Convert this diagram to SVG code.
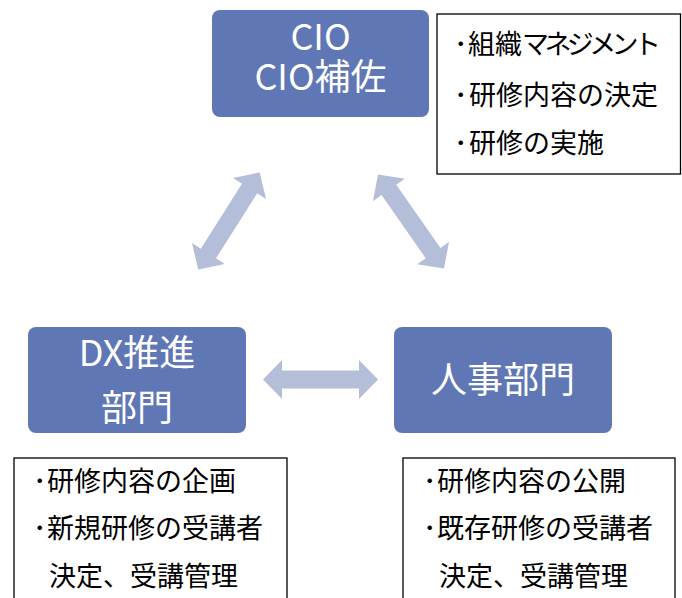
<svg xmlns="http://www.w3.org/2000/svg" xmlns:xlink="http://www.w3.org/1999/xlink" width="682" height="598" viewBox="0 0 682 598">
<style>
.node{fill:#6077b5;}
.nt{fill:#ffffff;font-family:"Noto Sans CJK JP","Noto Sans",sans-serif;font-size:36px;text-anchor:middle;}
.memo{fill:#ffffff;stroke:#000000;stroke-width:1.3;}
.mt{fill:#000000;font-family:"Noto Sans CJK JP","Noto Sans",sans-serif;font-size:27px;}
.arrow{fill:#b4bed9;}
</style>
<defs>
<path id="dblarrow" d="M-57.5,0 L-38.5,-19.5 L-38.5,-9 L38.5,-9 L38.5,-19.5 L57.5,0 L38.5,19.5 L38.5,9 L-38.5,9 L-38.5,19.5 Z"/>
</defs>
<rect width="682" height="598" fill="#ffffff"/>
<g id="connectors">
<use xlink:href="#dblarrow" class="arrow" transform="translate(229,221) rotate(122.3)"/>
<use xlink:href="#dblarrow" class="arrow" transform="translate(411,221.5) rotate(55)"/>
<use xlink:href="#dblarrow" class="arrow" transform="translate(320.5,379.5)"/>
</g>
<g id="cio">
<rect class="node" x="212" y="10" width="217" height="107" rx="8"/>
<text class="nt"><tspan x="320.5" y="50">CIO</tspan><tspan x="320.5" y="90">CIO補佐</tspan></text>
</g>
<g id="dx">
<rect class="node" x="28" y="327" width="218" height="106" rx="8"/>
<text class="nt" x="137" y="366">DX推進</text>
<text class="nt" x="137" y="421">部門</text>
</g>
<g id="hr">
<rect class="node" x="394" y="327" width="218" height="106" rx="8"/>
<text class="nt" x="503" y="393">人事部門</text>
</g>
<g id="cio-memo">
<rect class="memo" x="437" y="14" width="243.5" height="160"/>
<text class="mt" x="454" y="54"><tspan>･</tspan><tspan x="468">組織</tspan><tspan letter-spacing="-4.6">マネジメント</tspan></text>
<text class="mt" x="454" y="105"><tspan>･</tspan><tspan x="469">研修内容の決定</tspan></text>
<text class="mt" x="454" y="153"><tspan>･</tspan><tspan x="469">研修の実施</tspan></text>
</g>
<g id="dx-memo">
<rect class="memo" x="14" y="458" width="273" height="150"/>
<text class="mt" x="33" y="491"><tspan>･</tspan><tspan x="47">研修内容の企画</tspan></text>
<text class="mt" x="33" y="538"><tspan>･</tspan><tspan x="47">新規研修の受講者</tspan></text>
<text class="mt" x="49" y="586">決定、受講管理</text>
</g>
<g id="hr-memo">
<rect class="memo" x="403" y="458" width="272" height="150"/>
<text class="mt" x="423" y="491"><tspan>･</tspan><tspan x="437">研修内容の公開</tspan></text>
<text class="mt" x="423" y="538"><tspan>･</tspan><tspan x="437">既存研修の受講者</tspan></text>
<text class="mt" x="439" y="586">決定、受講管理</text>
</g>
</svg>
